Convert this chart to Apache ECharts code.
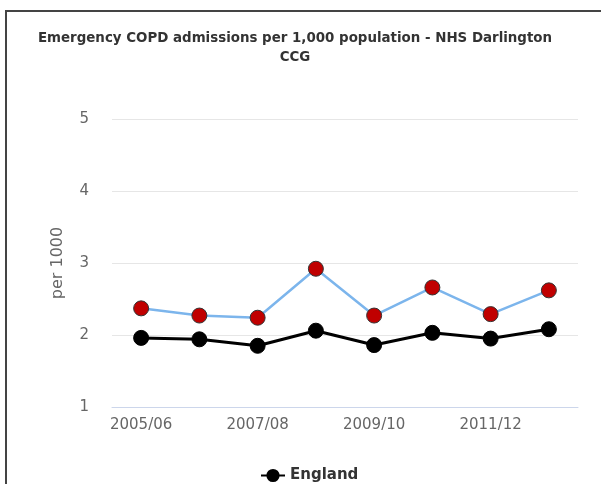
<!DOCTYPE html>
<html>
<head>
<meta charset="utf-8">
<script src="https://cdn.jsdelivr.net/npm/echarts@6/dist/echarts.min.js"></script>
<style>
  html, body { margin: 0; padding: 0; background: #fff; overflow: hidden; }
  #frame {
    position: absolute; left: 5px; top: 10px; width: 610px; height: 490px;
    border-left: 2px solid #444; border-top: 2px solid #444; box-sizing: border-box;
  }
  #copd { position: absolute; left: 0; top: 0; width: 601px; height: 484px; }
</style>
</head>
<body>
<div id="frame"></div>
<div id="copd"></div>
<script>
// financial years on the x axis
const years = ['2005/06', '2006/07', '2007/08', '2008/09', '2009/10', '2010/11', '2011/12', '2012/13'];
// NHS Darlington CCG, per 1000
const darlington = [2.37, 2.27, 2.24, 2.92, 2.27, 2.66, 2.29, 2.62];
// England, per 1000
const england = [1.96, 1.94, 1.85, 2.06, 1.86, 2.03, 1.95, 2.08];
const yTicks = [1, 2, 3, 4, 5];

let myChart = echarts.init(document.getElementById('copd'));

myChart.setOption({
  animation: false,
  title: {
    text: 'Emergency COPD admissions per 1,000 population - NHS Darlington\nCCG',
    left: 290,
    top: 24,
    textAlign: 'center',
    textStyle: {
      fontFamily: 'DejaVu Sans',
      fontSize: 13.4,
      fontWeight: 'bold',
      color: '#333',
      lineHeight: 19
    }
  },
  legend: {
    data: [{ name: 'England' }],
    left: 255,
    top: 463,
    itemWidth: 24,
    itemHeight: 14,
    itemGap: 6,
    textStyle: {
      fontFamily: 'DejaVu Sans',
      fontSize: 15,
      fontWeight: 'bold',
      color: '#333'
    }
  },
  grid: {
    left: 112,
    right: 23,
    top: 119,
    bottom: 77
  },
  xAxis: {
    type: 'category',
    data: years,
    boundaryGap: true,
    axisLine: {
      lineStyle: { color: '#ccd6eb', width: 1 }
    },
    axisTick: {
      alignWithLabel: true,
      interval: 0,
      length: 6,
      lineStyle: { color: '#ccd6eb' }
    },
    axisLabel: {
      interval: 1,
      margin: 11,
      fontFamily: 'DejaVu Sans',
      fontSize: 15,
      color: '#666'
    }
  },
  yAxis: {
    type: 'value',
    min: yTicks[0],
    max: yTicks[yTicks.length - 1],
    interval: 1,
    name: 'per 1000',
    nameLocation: 'middle',
    nameGap: 46,
    nameTextStyle: {
      fontFamily: 'DejaVu Sans',
      fontSize: 16,
      color: '#666'
    },
    axisLine: { show: false },
    axisTick: { show: false },
    axisLabel: {
      margin: 23,
      fontFamily: 'DejaVu Sans',
      fontSize: 15,
      color: '#666'
    },
    splitLine: {
      lineStyle: { color: '#e6e6e6', width: 1 }
    }
  },
  series: [
    {
      name: 'NHS Darlington CCG',
      type: 'line',
      data: darlington,
      symbol: 'circle',
      symbolSize: 15,
      lineStyle: { color: '#7cb5ec', width: 2.5 },
      itemStyle: { color: '#c00000', borderColor: '#333', borderWidth: 1 },
      z: 3
    },
    {
      name: 'England',
      type: 'line',
      data: england,
      symbol: 'circle',
      symbolSize: 15,
      lineStyle: { color: '#000', width: 3 },
      itemStyle: { color: '#000', borderColor: '#000', borderWidth: 1 },
      z: 2
    }
  ]
});

window.addEventListener('resize', () => {
  myChart.resize();
});
</script>
</body>
</html>
